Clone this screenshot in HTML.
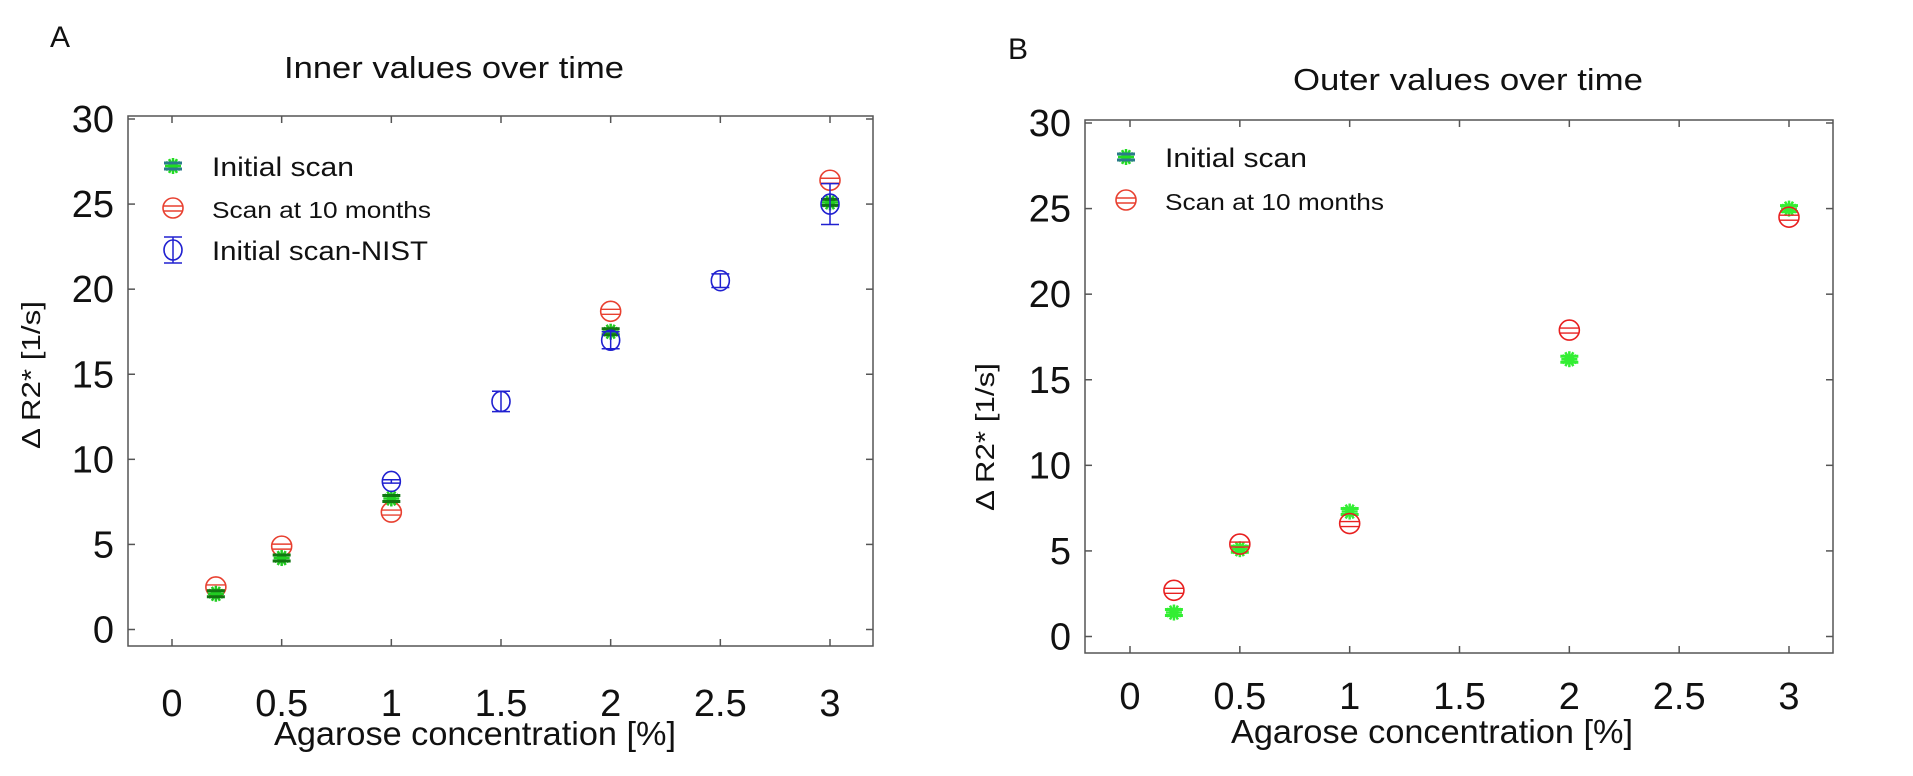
<!DOCTYPE html>
<html><head><meta charset="utf-8"><style>
html,body{margin:0;padding:0;background:#fff;width:1913px;height:776px;overflow:hidden}
svg{display:block}
text{font-family:"Liberation Sans",sans-serif;fill:#111}
</style></head><body>
<svg id="fig" width="1913" height="776" viewBox="0 0 1913 776"></svg>
<script>
const xTicks=[0,0.5,1,1.5,2,2.5,3];
const yTicks=[0,5,10,15,20,25,30];
const aInitX=[0.2,0.5,1,2,3];
const aInitY=[2.1,4.2,7.7,17.5,25.1];
const aTenX=[0.2,0.5,1,2,3];
const aTenY=[2.5,4.9,6.9,18.7,26.4];
const aNistX=[1,1.5,2,2.5,3];
const aNistY=[8.7,13.4,17.0,20.5,25.0];
const aNistErr=[0.1,0.6,0.5,0.4,1.2];
const bInitX=[0.2,0.5,1,2,3];
const bInitY=[1.4,5.1,7.3,16.2,25.0];
const bTenX=[0.2,0.5,1,2,3];
const bTenY=[2.7,5.4,6.6,17.9,24.5];

const NS="http://www.w3.org/2000/svg";
const svg=document.getElementById('fig');
function mk(tag,attrs,parent,txt){const e=document.createElementNS(NS,tag);for(const k in attrs)e.setAttribute(k,attrs[k]);if(txt!==undefined)e.textContent=txt;(parent||svg).appendChild(e);return e;}

function panel(cfg){
  const g=mk('g',{});
  
  
  const sx=v=>cfg.x0+(v-0)*(cfg.x3-cfg.x0)/3;
  const sy=v=>cfg.y0+(v-0)*(cfg.y30-cfg.y0)/30;
  const box=mk('rect',{x:cfg.L,y:cfg.T,width:cfg.R-cfg.L,height:cfg.B-cfg.T,fill:'none',stroke:'#555','stroke-width':1.5},g);
  
  
  const pl=mk('text',{x:cfg.pLx,y:cfg.pLy,'font-size':30},g,cfg.letter);
  
  
  const t=mk('text',{x:cfg.tx,y:cfg.ty,'font-size':31,'text-anchor':'middle',textLength:cfg.tw,lengthAdjust:'spacingAndGlyphs'},g,cfg.title);
  
  
  xTicks.forEach(v=>{
    const x=sx(v);
    mk('line',{x1:x,x2:x,y1:cfg.B,y2:cfg.B-7,stroke:'#555','stroke-width':1.5},g);
    mk('line',{x1:x,x2:x,y1:cfg.T,y2:cfg.T+7,stroke:'#555','stroke-width':1.5},g);
    const l=mk('text',{x:x,y:cfg.B+cfg.xlOff,'font-size':38,'text-anchor':'middle',fill:'#333'},g,String(v));
    
    
  });
  yTicks.forEach(v=>{
    const y=sy(v);
    mk('line',{x1:cfg.L,x2:cfg.L+7,y1:y,y2:y,stroke:'#555','stroke-width':1.5},g);
    mk('line',{x1:cfg.R,x2:cfg.R-7,y1:y,y2:y,stroke:'#555','stroke-width':1.5},g);
    const l=mk('text',{x:cfg.L-14,y:y+13,'font-size':38,'text-anchor':'end',fill:'#333'},g,String(v));
    
    
  });
  const xt=mk('text',{x:cfg.xtx,y:cfg.xty,'font-size':33,'text-anchor':'middle',textLength:402,lengthAdjust:'spacingAndGlyphs'},g,'Agarose concentration [%]');
  
  
  const yt=mk('text',{x:0,y:0,'font-size':26,'text-anchor':'middle',textLength:148,lengthAdjust:'spacingAndGlyphs',transform:`translate(${cfg.ytx},${cfg.yty}) rotate(-90)`},g,'\u0394 R2* [1/s]');
  
  
  return {g,sx,sy};
}
function star(g,x,y,c,c2){
  const s=mk('g',{},g);
  
  
  for(let a=0;a<180;a+=30){const r=a*Math.PI/180;mk('line',{x1:x-8*Math.cos(r),y1:y-8*Math.sin(r),x2:x+8*Math.cos(r),y2:y+8*Math.sin(r),stroke:c,'stroke-width':2.5},s);}
  mk('line',{x1:x-9,x2:x+9,y1:y-3,y2:y-3,stroke:c2,'stroke-width':3},s);
  mk('line',{x1:x-9,x2:x+9,y1:y+3,y2:y+3,stroke:c2,'stroke-width':3},s);
}
function circ(g,x,y,c,name){
  const s=mk('g',{},g);
  
  
  mk('circle',{cx:x,cy:y,r:10,fill:'none',stroke:c,'stroke-width':1.6},s);
  mk('line',{x1:x-10,x2:x+10,y1:y-2,y2:y-2,stroke:c,'stroke-width':1.4},s);
  mk('line',{x1:x-10,x2:x+10,y1:y+3,y2:y+3,stroke:c,'stroke-width':1.4},s);
}
function nist(g,x,y,yl,yh,c){
  const s=mk('g',{},g);
  
  
  mk('line',{x1:x,x2:x,y1:yl,y2:yh,stroke:c,'stroke-width':1.5},s);
  mk('line',{x1:x-9,x2:x+9,y1:yl,y2:yl,stroke:c,'stroke-width':1.5},s);
  mk('line',{x1:x-9,x2:x+9,y1:yh,y2:yh,stroke:c,'stroke-width':1.5},s);
  mk('ellipse',{cx:x,cy:y,rx:9,ry:10,fill:'none',stroke:c,'stroke-width':1.6},s);
}
function legend(g,items,mx,tx){
  items.forEach(it=>{
    const e=mk('g',{},g);
    
    
    if(it.k==='s')star(e,mx,it.y,'#22dd22','#2a7a8a');
    else if(it.k==='c')circ(e,mx,it.y,'#e84030','legend-marker');
    else nist(e,mx,it.y,it.y-13,it.y+13,'#2020d0');
    mk('text',{x:tx,y:it.y+10,'font-size':it.fs,textLength:it.w,lengthAdjust:'spacingAndGlyphs'},e,it.t);
  });
}

// Panel A
const A=panel({name:'panel-a',letter:'A',pLx:50,pLy:47,L:128,R:873,T:116,B:646,x0:172,x3:830,y0:629.5,y30:119,
  title:'Inner values over time',tx:454,ty:78,tw:340,xtx:475,xty:745,xlOff:70,ytx:40,yty:375});
aTenX.forEach((v,i)=>circ(A.g,A.sx(v),A.sy(aTenY[i]),'#e84030','ten-month-point'));
aInitX.forEach((v,i)=>star(A.g,A.sx(v),A.sy(aInitY[i]),'#22cc22','#117711'));
aNistX.forEach((v,i)=>nist(A.g,A.sx(v),A.sy(aNistY[i]),A.sy(aNistY[i]-aNistErr[i]),A.sy(aNistY[i]+aNistErr[i]),'#2020d0'));
legend(A.g,[{k:'s',y:166,t:'Initial scan',fs:27,w:142},{k:'c',y:208,t:'Scan at 10 months',fs:23,w:219},{k:'n',y:250,t:'Initial scan-NIST',fs:27,w:216}],173,212);

// Panel B
const B=panel({name:'panel-b',letter:'B',pLx:1008,pLy:59,L:1085,R:1833,T:120,B:653,x0:1130,x3:1789,y0:636.5,y30:123,
  title:'Outer values over time',tx:1468,ty:90,tw:350,xtx:1432,xty:743,xlOff:56,ytx:994,yty:437});
bInitX.forEach((v,i)=>star(B.g,B.sx(v),B.sy(bInitY[i]),'#33ee33','#33ee33'));
bTenX.forEach((v,i)=>circ(B.g,B.sx(v),B.sy(bTenY[i]),'#e82020','ten-month-point'));
legend(B.g,[{k:'s',y:157,t:'Initial scan',fs:27,w:142},{k:'c',y:200,t:'Scan at 10 months',fs:23,w:219}],1126,1165);
</script>
</body></html>
